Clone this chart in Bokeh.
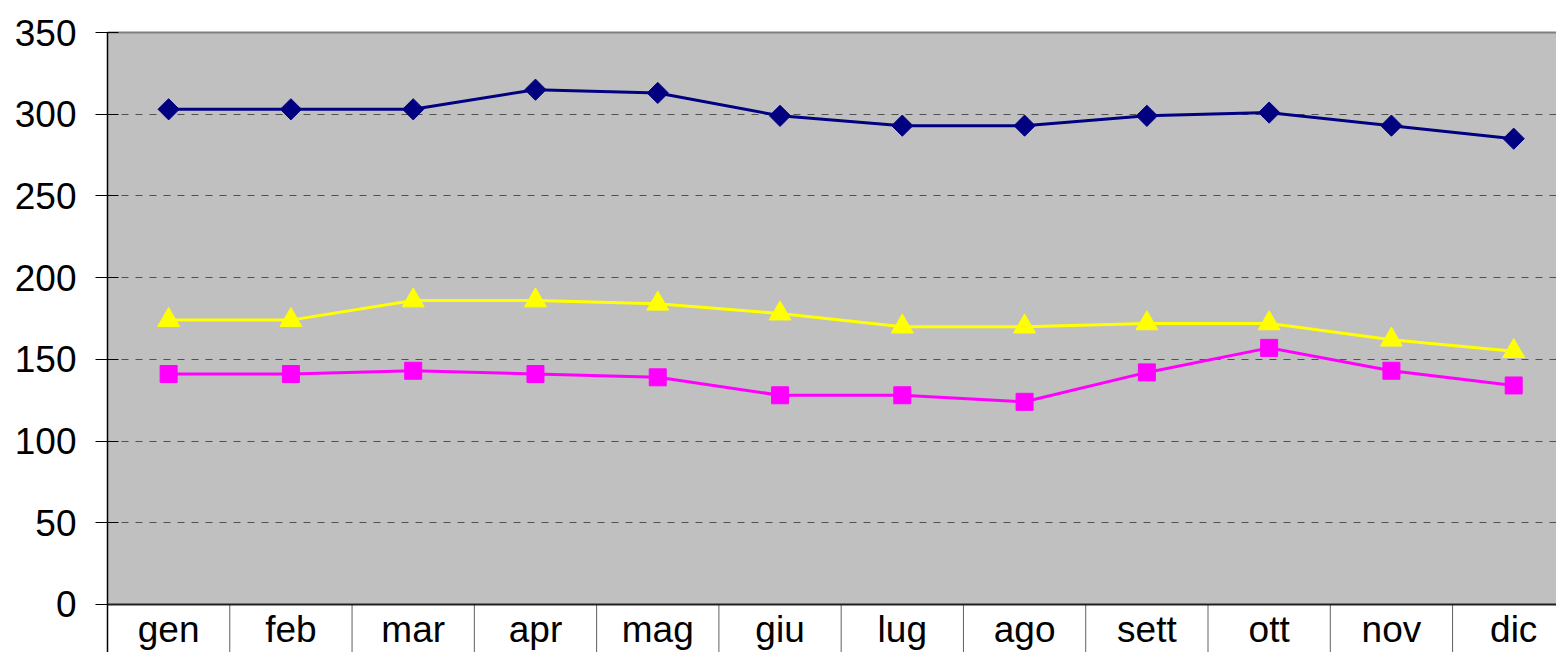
import numpy as np
from bokeh.plotting import figure
from bokeh.models import FixedTicker, LinearAxis, Range1d, BoxAnnotation, Span
from bokeh.core.properties import value
from bokeh.embed import file_html
from bokeh.resources import INLINE

categories = ["gen", "feb", "mar", "apr", "mag", "giu", "lug", "ago", "sett", "ott", "nov", "dic"]
serie_blu = [303, 303, 303, 315, 313, 299, 293, 293, 299, 301, 293, 285]
serie_gialla = [174, 174, 186, 186, 184, 178, 170, 170, 172, 172, 162, 155]
serie_magenta = [141, 141, 143, 141, 139, 128, 128, 124, 142, 157, 143, 134]
y_ticks = [0, 50, 100, 150, 200, 250, 300, 350]

x = list(range(len(categories)))
FONT = "Liberation Sans"

# layout: the frame continues below 0 to hold the category band
Y_MIN = -29.4          # bottom of category band (in value units)
LABEL_Y = -15.6        # position of category labels
X_END = 11.35          # last category partly cut off at the right edge, as in the original

p = figure(width=1556, height=652,
           x_range=Range1d(-0.5, X_END), y_range=Range1d(Y_MIN, 350),
           output_backend="svg", toolbar_location=None,
           min_border_left=107, min_border_right=0, min_border_top=32, min_border_bottom=0,
           background_fill_color="white", border_fill_color="white",
           outline_line_color=None, x_axis_location=None)

# grey plot area above 0
p.add_layout(BoxAnnotation(bottom=0, fill_color="#C0C0C0", fill_alpha=1.0,
                           line_color=None, level="image"))

ya = p.yaxis[0]
ya.ticker = FixedTicker(ticks=y_ticks, minor_ticks=[])
ya.major_tick_out = 12
ya.major_tick_in = 11
ya.major_tick_line_color = "black"
ya.major_tick_line_width = 1
ya.axis_line_color = "black"
ya.axis_line_width = 1.5
ya.major_label_text_font = FONT
ya.major_label_text_font_size = "37px"
ya.major_label_text_color = "black"
ya.major_label_standoff = 19

# top border
top = LinearAxis(ticker=FixedTicker(ticks=[]), major_label_text_font_size="0px",
                 axis_line_color="#808080", axis_line_width=2,
                 major_tick_line_color=None, minor_tick_line_color=None)
p.add_layout(top, "above")

p.xgrid.visible = False
p.ygrid.ticker = FixedTicker(ticks=y_ticks[1:-1], minor_ticks=[])
p.ygrid.grid_line_color = "#505050"
p.ygrid.grid_line_dash = "7 7"
p.ygrid.grid_line_width = 1

# category band: separators and labels
bounds = [i - 0.5 for i in range(len(categories) + 1)]
p.segment(x0=bounds, y0=[0] * len(bounds), x1=bounds, y1=[Y_MIN] * len(bounds),
          line_color="#606060", line_width=1)
p.add_layout(Span(location=0, dimension="width", line_color="#202020", line_width=2))
p.text(x=x, y=[LABEL_Y] * len(x), text=categories,
       text_font=value(FONT), text_font_size="37px", text_color="black",
       text_align="center", text_baseline="alphabetic")

p.line(x, serie_blu, line_color="#000080", line_width=3)
p.scatter(x, serie_blu, marker="square", angle=np.pi / 4, size=15,
          fill_color="#000080", line_color="#000080")

p.line(x, serie_gialla, line_color="#FFFF00", line_width=3)
p.scatter(x, serie_gialla, marker="triangle", size=22,
          fill_color="#FFFF00", line_color="#FFFF00")

p.line(x, serie_magenta, line_color="#FF00FF", line_width=3)
p.scatter(x, serie_magenta, marker="square", size=17,
          fill_color="#FF00FF", line_color="#FF00FF")

open("out.html", "w").write(file_html(p, INLINE))
